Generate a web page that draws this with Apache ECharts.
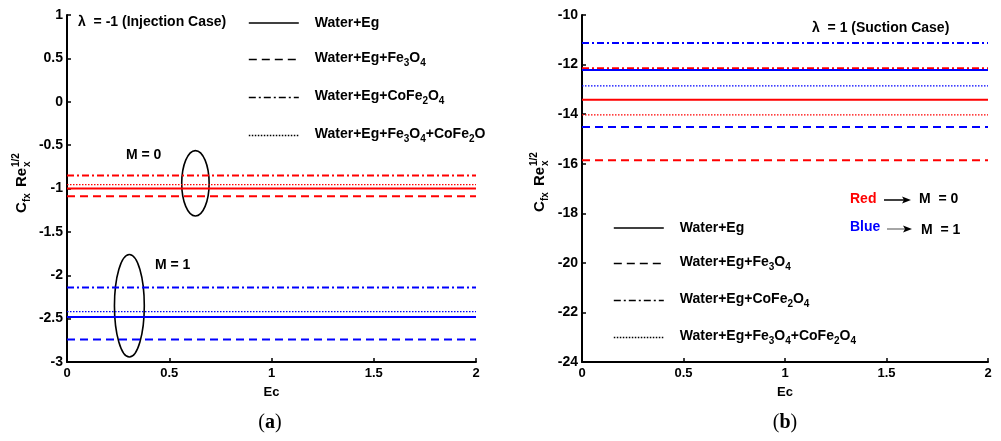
<!DOCTYPE html>
<html>
<head>
<meta charset="utf-8">
<script src="https://cdn.jsdelivr.net/npm/echarts@6/dist/echarts.min.js"></script>
<style>
  html, body { margin: 0; padding: 0; background: #fff; }
  #chart { width: 1001px; height: 441px; }
</style>
</head>
<body>
<div id="chart"></div>
<script>
// Eckert number values at which the skin friction is sampled
const ec = [0, 0.5, 1, 1.5, 2];
const xTicks = [0, 0.5, 1, 1.5, 2];

// Fluid names (legend order)
const fluids = ['Water+Eg', 'Water+Eg+Fe3O4', 'Water+Eg+CoFe2O4', 'Water+Eg+Fe3O4+CoFe2O4'];

// lambda = -1 (injection), M = 0
const injM0WaterEg      = [-1.00, -1.00, -1.00, -1.00, -1.00];
const injM0Fe3O4        = [-1.09, -1.09, -1.09, -1.09, -1.09];
const injM0CoFe2O4      = [-0.85, -0.85, -0.85, -0.85, -0.85];
const injM0Hybrid       = [-0.955, -0.955, -0.955, -0.955, -0.955];
// lambda = -1 (injection), M = 1
const injM1WaterEg      = [-2.48, -2.48, -2.48, -2.48, -2.48];
const injM1Fe3O4        = [-2.74, -2.74, -2.74, -2.74, -2.74];
const injM1CoFe2O4      = [-2.14, -2.14, -2.14, -2.14, -2.14];
const injM1Hybrid       = [-2.42, -2.42, -2.42, -2.42, -2.42];

// lambda = 1 (suction), M = 0
const sucM0WaterEg      = [-13.42, -13.42, -13.42, -13.42, -13.42];
const sucM0Fe3O4        = [-15.86, -15.86, -15.86, -15.86, -15.86];
const sucM0CoFe2O4      = [-12.15, -12.15, -12.15, -12.15, -12.15];
const sucM0Hybrid       = [-14.03, -14.03, -14.03, -14.03, -14.03];
// lambda = 1 (suction), M = 1
const sucM1WaterEg      = [-12.22, -12.22, -12.22, -12.22, -12.22];
const sucM1Fe3O4        = [-14.52, -14.52, -14.52, -14.52, -14.52];
const sucM1CoFe2O4      = [-11.13, -11.13, -11.13, -11.13, -11.13];
const sucM1Hybrid       = [-12.86, -12.86, -12.86, -12.86, -12.86];

// Highlight ellipses in panel (a): [centre Ec, centre value, half-width, half-height]
const ellipseM0 = [0.628, -0.94, 0.067, 0.377];
const ellipseM1 = [0.305, -2.351, 0.073, 0.591];

const FONT = 'Liberation Sans, Arial, sans-serif';
const RED = '#ff0000';
const BLUE = '#0000ff';

// line dash per fluid
const styles = [
  { type: 'solid', width: 2 },
  { type: [8, 5], width: 2 },
  { type: [7, 3, 2, 3], width: 2 },
  { type: [1.5, 1.5], width: 1.3 }
];

function pairs(vals) { return ec.map((x, i) => [x, vals[i]]); }

function lineSeries(name, vals, color, k, gi) {
  return {
    type: 'line', name: name, xAxisIndex: gi, yAxisIndex: gi,
    data: pairs(vals), symbol: 'none', silent: true,
    lineStyle: { color: color, width: styles[k].width, type: styles[k].type },
    itemStyle: { color: color },
    animation: false
  };
}

const series = [];
[injM0WaterEg, injM0Fe3O4, injM0CoFe2O4, injM0Hybrid].forEach((v, k) => series.push(lineSeries(fluids[k], v, RED, k, 0)));
[injM1WaterEg, injM1Fe3O4, injM1CoFe2O4, injM1Hybrid].forEach((v, k) => series.push(lineSeries(fluids[k], v, BLUE, k, 0)));
[sucM0WaterEg, sucM0Fe3O4, sucM0CoFe2O4, sucM0Hybrid].forEach((v, k) => series.push(lineSeries(fluids[k], v, RED, k, 1)));
[sucM1WaterEg, sucM1Fe3O4, sucM1CoFe2O4, sucM1Hybrid].forEach((v, k) => series.push(lineSeries(fluids[k], v, BLUE, k, 1)));

// ellipses around each M group
series.push({
  type: 'custom', xAxisIndex: 0, yAxisIndex: 0, clip: false, silent: true, animation: false,
  data: [ellipseM0, ellipseM1],
  encode: { x: 0, y: 1 },
  renderItem: function (params, api) {
    const c = api.coord([api.value(0), api.value(1)]);
    const s = api.size([api.value(2), api.value(3)]);
    return {
      type: 'ellipse',
      shape: { cx: c[0], cy: c[1], rx: s[0], ry: s[1] },
      style: { fill: 'none', stroke: '#000', lineWidth: 1.6 }
    };
  }
});

// legend text with chemical subscripts
const legendRich = {
  'Water+Eg': '{n|Water+Eg}',
  'Water+Eg+Fe3O4': '{n|Water+Eg+Fe}{s|3}{n|O}{s|4}',
  'Water+Eg+CoFe2O4': '{n|Water+Eg+CoFe}{s|2}{n|O}{s|4}',
  'Water+Eg+Fe3O4+CoFe2O4': '{n|Water+Eg+Fe}{s|3}{n|O}{s|4}{n|+CoFe}{s|2}{n|O}{s|4}'
};
const legendRichA = Object.assign({}, legendRich, {
  'Water+Eg+Fe3O4+CoFe2O4': '{n|Water+Eg+Fe}{s|3}{n|O}{s|4}{n|+CoFe}{s|2}{n|O}'
});

function legendText() {
  return {
    fontFamily: FONT, fontWeight: 'bold', fontSize: 14, color: '#000',
    padding: [0, 0, 0, 11],
    rich: {
      n: { fontFamily: FONT, fontWeight: 'bold', fontSize: 14, color: '#000', verticalAlign: 'top' },
      s: { fontFamily: FONT, fontWeight: 'bold', fontSize: 10, color: '#000', verticalAlign: 'top', padding: [7, 0, 0, 0] }
    }
  };
}

function xAxis(gi) {
  return {
    type: 'value', gridIndex: gi, min: 0, max: 2, interval: 0.5,
    name: 'Ec', nameLocation: 'middle', nameGap: 24,
    nameTextStyle: { fontFamily: FONT, fontWeight: 'bold', fontSize: 13, color: '#000' },
    axisLine: { show: true, onZero: false, lineStyle: { color: '#000', width: 2 } },
    axisTick: { show: true, inside: true, length: 4, lineStyle: { color: '#000', width: 1.5 } },
    axisLabel: { fontFamily: FONT, fontWeight: 'bold', fontSize: 13, color: '#000', margin: 5,
      formatter: v => (xTicks.indexOf(v) >= 0 ? String(v) : '') },
    splitLine: { show: false }
  };
}
function yAxis(gi, min, max, interval) {
  return {
    type: 'value', gridIndex: gi, min: min, max: max, interval: interval,
    axisLine: { show: true, onZero: false, lineStyle: { color: '#000', width: 2 } },
    axisTick: { show: true, inside: true, length: 4, lineStyle: { color: '#000', width: 1.5 } },
    axisLabel: { fontFamily: FONT, fontWeight: 'bold', fontSize: 14, color: '#000', margin: 4 },
    splitLine: { show: false }
  };
}

// rotated y-axis title: C_fx Re_x^(1/2)
function yTitle(cx, cy) {
  const t = (text, x, y, size) => ({
    type: 'text', x: x, y: y,
    style: { text: text, fontFamily: FONT, fontWeight: 'bold', fontSize: size, fill: '#000',
      textAlign: 'left', textVerticalAlign: 'middle' }
  });
  return {
    type: 'group', x: cx, y: cy, rotation: Math.PI / 2,
    children: [
      t('C', -26, 0, 15),
      t('fx', -15, 5, 10),
      t('Re', 0, 0, 15),
      t('x', 20, 5, 10),
      t('1/2', 20, -6, 10)
    ]
  };
}

function label(text, x, y, color, opts) {
  return Object.assign({
    type: 'text', x: x, y: y, silent: true,
    style: { text: text, fontFamily: FONT, fontWeight: 'bold', fontSize: 14, fill: color || '#000',
      textAlign: 'left', textVerticalAlign: 'middle' }
  }, opts || {});
}

function arrow(x1, x2, y, color) {
  return {
    type: 'group', silent: true,
    children: [
      { type: 'line', shape: { x1: x1, y1: y, x2: x2 - 6, y2: y }, style: { stroke: color, lineWidth: 1.5 } },
      { type: 'polygon', shape: { points: [[x2, y], [x2 - 9, y - 3.5], [x2 - 7, y], [x2 - 9, y + 3.5]] }, style: { fill: '#000' } }
    ]
  };
}

function legendBlock(left, top, gap, map) {
  return {
    left: left, top: top, orient: 'vertical', itemWidth: 50, itemHeight: 14, itemGap: gap,
    selectedMode: false, data: fluids,
    formatter: n => map[n],
    textStyle: legendText(),
    itemStyle: { opacity: 0 },
    lineStyle: { color: '#000', width: 1.6 }
  };
}

const chart = echarts.init(document.getElementById('chart'), null, { renderer: 'canvas' });
chart.setOption({
  animation: false,
  backgroundColor: '#fff',
  grid: [
    { left: 67, top: 15, width: 409, height: 347 },
    { left: 582, top: 15, width: 406, height: 347 }
  ],
  xAxis: [xAxis(0), xAxis(1)],
  yAxis: [yAxis(0, -3, 1, 0.5), yAxis(1, -24, -10, 2)],
  legend: [
    legendBlock(243, 11, 21, legendRichA),
    legendBlock(608, 216, 20, legendRich)
  ],
  graphic: [
    yTitle(22, 187),
    yTitle(540, 186),
    label('\u03bb  = -1 (Injection Case)', 78, 22),
    label('\u03bb  = 1 (Suction Case)', 812, 28),
    label('M = 0', 126, 155),
    label('M = 1', 155, 265),
    label('Red', 850, 199, RED),
    arrow(884, 911, 200, '#000'),
    label('M  = 0', 919, 199),
    label('Blue', 850, 227, BLUE),
    arrow(887, 912, 229, '#888'),
    label('M  = 1', 921, 230),
    {
      type: 'text', x: 270, y: 423, silent: true,
      style: { text: '({b|a})', fontFamily: 'Liberation Serif, serif', fontSize: 20, fill: '#000',
        textAlign: 'center', textVerticalAlign: 'middle',
        rich: { b: { fontFamily: 'Liberation Serif, serif', fontWeight: 'bold', fontSize: 20, fill: '#000' } } }
    },
    {
      type: 'text', x: 785, y: 423, silent: true,
      style: { text: '({b|b})', fontFamily: 'Liberation Serif, serif', fontSize: 20, fill: '#000',
        textAlign: 'center', textVerticalAlign: 'middle',
        rich: { b: { fontFamily: 'Liberation Serif, serif', fontWeight: 'bold', fontSize: 20, fill: '#000' } } }
    }
  ],
  series: series
});
</script>
</body>
</html>
